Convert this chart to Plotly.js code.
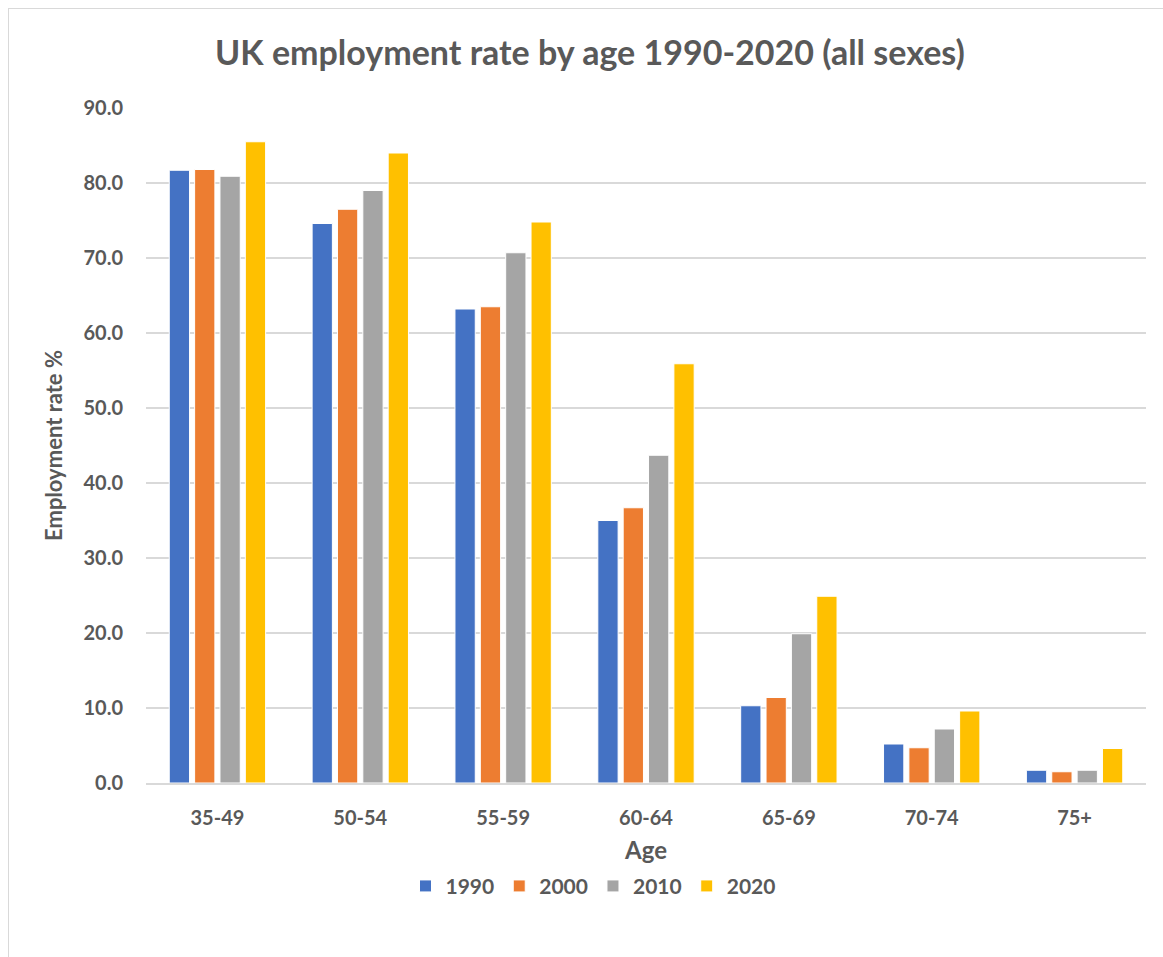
<!DOCTYPE html>
<html>
<head>
<meta charset="utf-8">
<script src="https://cdn.plot.ly/plotly-3.0.1.min.js"></script>
<style>
  html, body { margin: 0; padding: 0; background: #fff; }
  #frame { position: absolute; left: 8px; top: 8px; width: 1160px; height: 955px; border: 1px solid #d9d9d9; box-sizing: border-box; }
  #chart { position: absolute; left: 0; top: 0; width: 1155px; height: 949px; }
</style>
</head>
<body>
<div id="frame"><div id="chart"></div></div>
<script>
const ageGroups = ["35-49", "50-54", "55-59", "60-64", "65-69", "70-74", "75+"];
const years = ["1990", "2000", "2010", "2020"];
const rate1990 = [81.7, 74.6, 63.2, 35.0, 10.3, 5.2, 1.7];
const rate2000 = [81.8, 76.5, 63.5, 36.7, 11.4, 4.7, 1.5];
const rate2010 = [80.9, 79.0, 70.7, 43.7, 19.9, 7.2, 1.7];
const rate2020 = [85.5, 84.0, 74.8, 55.9, 24.9, 9.6, 4.6];
const seriesValues = [rate1990, rate2000, rate2010, rate2020];
const colors = ["#4472c4", "#ed7d31", "#a5a5a5", "#ffc000"];

const font = "Lato, 'Open Sans', sans-serif";
const grey = "#595959";

const traces = years.map((y, i) => ({
  type: "bar",
  name: y,
  x: ageGroups,
  y: seriesValues[i],
  marker: { color: colors[i], line: { color: "#ffffff", width: 1 } },
  hoverinfo: "x+y+name"
}));

const layout = {
  width: 1155,
  height: 949,
  paper_bgcolor: "rgba(0,0,0,0)",
  plot_bgcolor: "#ffffff",
  margin: { l: 137, r: 18, t: 99, b: 175 },
  barmode: "group",
  bargap: 0.29,
  bargroupgap: 0.2,
  title: {
    text: "<b>UK employment rate by age 1990-2020 (all sexes)</b>",
    font: { family: font, size: 34, color: grey },
    x: 0.503, xanchor: "center",
    y: 0.954, yanchor: "middle"
  },
  xaxis: {
    type: "category",
    showline: true,
    linecolor: "#d9d9d9",
    linewidth: 1.5,
    ticks: "",
    tickfont: { family: font, size: 20, color: grey, weight: "bold" },
    ticklabelstandoff: 16,
    title: { text: "<b>Age</b>", font: { family: font, size: 24, color: grey }, standoff: 14 }
  },
  yaxis: {
    range: [0, 90],
    dtick: 10,
    tickformat: ".1f",
    showgrid: true,
    gridcolor: "#d9d9d9",
    gridwidth: 1.5,
    zeroline: false,
    ticks: "",
    tickfont: { family: font, size: 20, color: grey, weight: "bold" },
    ticklabelstandoff: 22,
    title: { text: "<b>Employment rate %</b>", font: { family: font, size: 22, color: grey }, standoff: 14 }
  },
  legend: {
    orientation: "h",
    x: 0.447, xanchor: "center",
    y: -0.153, yanchor: "middle",
    font: { family: font, size: 21, color: grey, weight: "bold" },
    itemwidth: 30,
    traceorder: "normal"
  },
  showlegend: true
};

Plotly.newPlot("chart", traces, layout, { displayModeBar: false, responsive: false });
</script>
</body>
</html>
